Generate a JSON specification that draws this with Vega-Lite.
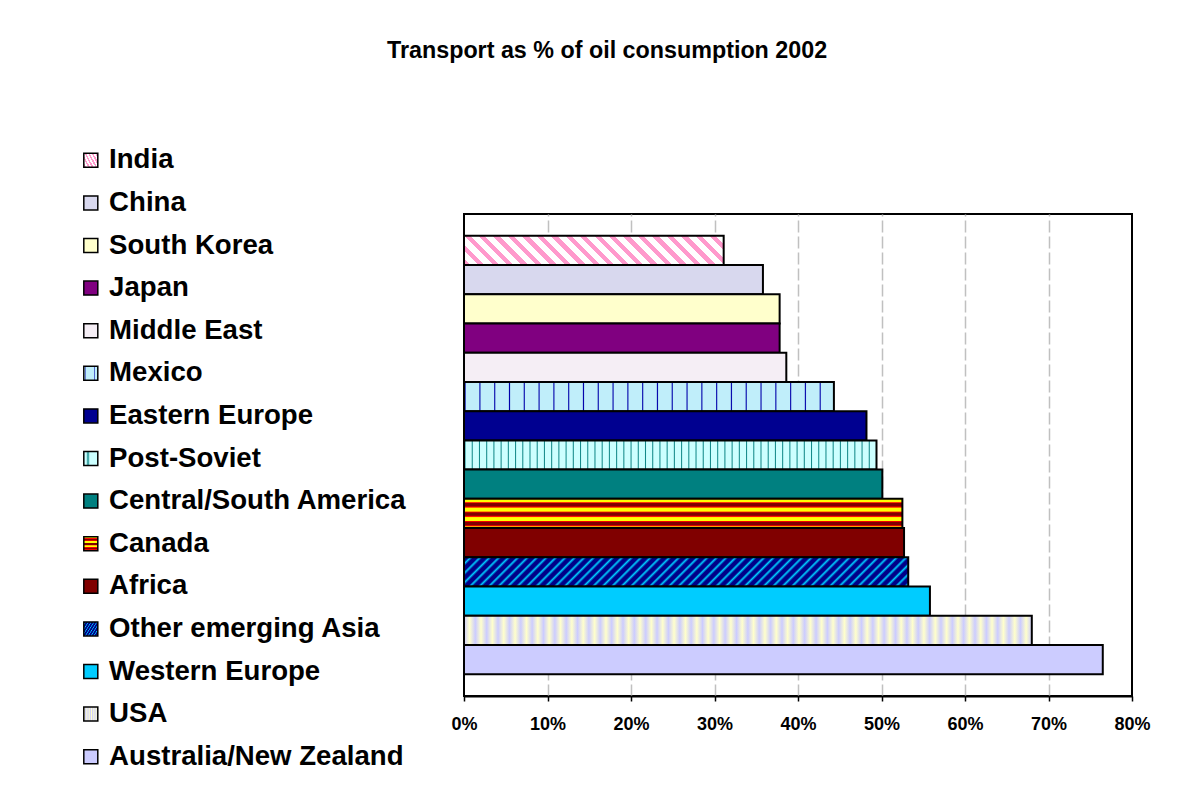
{
  "$schema": "https://vega.github.io/schema/vega-lite/v6.json",
  "autosize": "none",
  "width": 668,
  "height": 482,
  "padding": {"left": 464, "top": 214, "right": 55, "bottom": 106},
  "background": "white",
  "title": {
    "text": "Transport as % of oil consumption 2002",
    "anchor": "start",
    "frame": "group",
    "dx": -77,
    "offset": 65,
    "baseline": "alphabetic",
    "font": "Liberation Sans",
    "fontSize": 23.3,
    "fontWeight": "bold",
    "color": "black"
  },
  "data": {
    "values": [
      {"region": "India", "value": 31.1},
      {"region": "China", "value": 35.8},
      {"region": "South Korea", "value": 37.8},
      {"region": "Japan", "value": 37.8},
      {"region": "Middle East", "value": 38.6},
      {"region": "Mexico", "value": 44.3},
      {"region": "Eastern Europe", "value": 48.2},
      {"region": "Post-Soviet", "value": 49.4},
      {"region": "Central/South America", "value": 50.1},
      {"region": "Canada", "value": 52.5},
      {"region": "Africa", "value": 52.7},
      {"region": "Other emerging Asia", "value": 53.2},
      {"region": "Western Europe", "value": 55.8},
      {"region": "USA", "value": 68.0},
      {"region": "Australia/New Zealand", "value": 76.5}
    ]
  },
  "mark": {"type": "bar", "stroke": "black", "strokeWidth": 2, "opacity": 1, "fillOpacity": 1},
  "encoding": {
    "y": {
      "field": "region",
      "type": "nominal",
      "sort": null,
      "scale": {"paddingInner": 0, "paddingOuter": 0.74},
      "axis": null
    },
    "x": {
      "field": "value",
      "type": "quantitative",
      "scale": {"domain": [0, 80], "nice": false, "zero": true},
      "axis": {
        "values": [0, 10, 20, 30, 40, 50, 60, 70, 80],
        "labelExpr": "datum.value + '%'",
        "title": null,
        "domain": true,
        "domainColor": "black",
        "domainWidth": 2,
        "ticks": true,
        "tickColor": "black",
        "tickWidth": 1.5,
        "tickSize": 5,
        "labelFont": "Liberation Sans",
        "labelFontSize": 18,
        "labelFontWeight": "bold",
        "labelColor": "black",
        "labelPadding": 14.5,
        "labelFlush": false,
        "grid": true,
        "gridColor": {"condition": {"test": "datum.value === 0 || datum.value === 80", "value": "transparent"}, "value": "#c0c0c0"},
        "gridWidth": 1.5,
        "gridDash": [12, 4]
      }
    },
    "fill": {
      "field": "region",
      "type": "nominal",
      "scale": {
        "domain": ["India", "China", "South Korea", "Japan", "Middle East", "Mexico", "Eastern Europe", "Post-Soviet", "Central/South America", "Canada", "Africa", "Other emerging Asia", "Western Europe", "USA", "Australia/New Zealand"],
        "range": [
          {"expr": "{gradient:'linear',x1:0,y1:1,x2:1.0987,y2:0.8763,stops:[{offset:0,color:'#f9c'},{offset:0.022,color:'#f9c'},{offset:0.022,color:'#fff'},{offset:0.05,color:'#fff'},{offset:0.05,color:'#f9c'},{offset:0.072,color:'#f9c'},{offset:0.072,color:'#fff'},{offset:0.1,color:'#fff'},{offset:0.1,color:'#f9c'},{offset:0.122,color:'#f9c'},{offset:0.122,color:'#fff'},{offset:0.15,color:'#fff'},{offset:0.15,color:'#f9c'},{offset:0.172,color:'#f9c'},{offset:0.172,color:'#fff'},{offset:0.2,color:'#fff'},{offset:0.2,color:'#f9c'},{offset:0.222,color:'#f9c'},{offset:0.222,color:'#fff'},{offset:0.25,color:'#fff'},{offset:0.25,color:'#f9c'},{offset:0.272,color:'#f9c'},{offset:0.272,color:'#fff'},{offset:0.3,color:'#fff'},{offset:0.3,color:'#f9c'},{offset:0.322,color:'#f9c'},{offset:0.322,color:'#fff'},{offset:0.35,color:'#fff'},{offset:0.35,color:'#f9c'},{offset:0.372,color:'#f9c'},{offset:0.372,color:'#fff'},{offset:0.4,color:'#fff'},{offset:0.4,color:'#f9c'},{offset:0.422,color:'#f9c'},{offset:0.422,color:'#fff'},{offset:0.45,color:'#fff'},{offset:0.45,color:'#f9c'},{offset:0.472,color:'#f9c'},{offset:0.472,color:'#fff'},{offset:0.5,color:'#fff'},{offset:0.5,color:'#f9c'},{offset:0.522,color:'#f9c'},{offset:0.522,color:'#fff'},{offset:0.55,color:'#fff'},{offset:0.55,color:'#f9c'},{offset:0.572,color:'#f9c'},{offset:0.572,color:'#fff'},{offset:0.6,color:'#fff'},{offset:0.6,color:'#f9c'},{offset:0.622,color:'#f9c'},{offset:0.622,color:'#fff'},{offset:0.65,color:'#fff'},{offset:0.65,color:'#f9c'},{offset:0.672,color:'#f9c'},{offset:0.672,color:'#fff'},{offset:0.7,color:'#fff'},{offset:0.7,color:'#f9c'},{offset:0.722,color:'#f9c'},{offset:0.722,color:'#fff'},{offset:0.75,color:'#fff'},{offset:0.75,color:'#f9c'},{offset:0.772,color:'#f9c'},{offset:0.772,color:'#fff'},{offset:0.8,color:'#fff'},{offset:0.8,color:'#f9c'},{offset:0.822,color:'#f9c'},{offset:0.822,color:'#fff'},{offset:0.85,color:'#fff'},{offset:0.85,color:'#f9c'},{offset:0.872,color:'#f9c'},{offset:0.872,color:'#fff'},{offset:0.9,color:'#fff'},{offset:0.9,color:'#f9c'},{offset:0.922,color:'#f9c'},{offset:0.922,color:'#fff'},{offset:0.95,color:'#fff'},{offset:0.95,color:'#f9c'},{offset:0.972,color:'#f9c'},{offset:0.972,color:'#fff'},{offset:1,color:'#fff'}]}"},
          "#d8d8ee",
          "#ffffcc",
          "#800080",
          "#f5eef5",
          {"expr": "{gradient:'linear',x1:0,y1:0,x2:1,y2:0,stops:[{offset:0,color:'#c0eefa'},{offset:0.003,color:'#00a'},{offset:0.006,color:'#c0eefa'},{offset:0.04,color:'#c0eefa'},{offset:0.043,color:'#00a'},{offset:0.046,color:'#c0eefa'},{offset:0.08,color:'#c0eefa'},{offset:0.083,color:'#00a'},{offset:0.086,color:'#c0eefa'},{offset:0.12,color:'#c0eefa'},{offset:0.123,color:'#00a'},{offset:0.126,color:'#c0eefa'},{offset:0.16,color:'#c0eefa'},{offset:0.163,color:'#00a'},{offset:0.166,color:'#c0eefa'},{offset:0.2,color:'#c0eefa'},{offset:0.203,color:'#00a'},{offset:0.206,color:'#c0eefa'},{offset:0.24,color:'#c0eefa'},{offset:0.243,color:'#00a'},{offset:0.246,color:'#c0eefa'},{offset:0.28,color:'#c0eefa'},{offset:0.283,color:'#00a'},{offset:0.286,color:'#c0eefa'},{offset:0.32,color:'#c0eefa'},{offset:0.323,color:'#00a'},{offset:0.326,color:'#c0eefa'},{offset:0.36,color:'#c0eefa'},{offset:0.363,color:'#00a'},{offset:0.366,color:'#c0eefa'},{offset:0.4,color:'#c0eefa'},{offset:0.403,color:'#00a'},{offset:0.406,color:'#c0eefa'},{offset:0.44,color:'#c0eefa'},{offset:0.443,color:'#00a'},{offset:0.446,color:'#c0eefa'},{offset:0.48,color:'#c0eefa'},{offset:0.483,color:'#00a'},{offset:0.486,color:'#c0eefa'},{offset:0.52,color:'#c0eefa'},{offset:0.523,color:'#00a'},{offset:0.526,color:'#c0eefa'},{offset:0.56,color:'#c0eefa'},{offset:0.563,color:'#00a'},{offset:0.566,color:'#c0eefa'},{offset:0.6,color:'#c0eefa'},{offset:0.603,color:'#00a'},{offset:0.606,color:'#c0eefa'},{offset:0.64,color:'#c0eefa'},{offset:0.643,color:'#00a'},{offset:0.646,color:'#c0eefa'},{offset:0.68,color:'#c0eefa'},{offset:0.683,color:'#00a'},{offset:0.686,color:'#c0eefa'},{offset:0.72,color:'#c0eefa'},{offset:0.723,color:'#00a'},{offset:0.726,color:'#c0eefa'},{offset:0.76,color:'#c0eefa'},{offset:0.763,color:'#00a'},{offset:0.766,color:'#c0eefa'},{offset:0.8,color:'#c0eefa'},{offset:0.803,color:'#00a'},{offset:0.806,color:'#c0eefa'},{offset:0.84,color:'#c0eefa'},{offset:0.843,color:'#00a'},{offset:0.846,color:'#c0eefa'},{offset:0.88,color:'#c0eefa'},{offset:0.883,color:'#00a'},{offset:0.886,color:'#c0eefa'},{offset:0.92,color:'#c0eefa'},{offset:0.923,color:'#00a'},{offset:0.926,color:'#c0eefa'},{offset:0.96,color:'#c0eefa'},{offset:0.963,color:'#00a'},{offset:0.966,color:'#c0eefa'},{offset:1,color:'#c0eefa'}]}"},
          "#000090",
          {"expr": "{gradient:'linear',x1:0,y1:0,x2:1,y2:0,stops:[{offset:0,color:'#cff'},{offset:0.0025,color:'#188'},{offset:0.005,color:'#cff'},{offset:0.0175,color:'#cff'},{offset:0.02,color:'#188'},{offset:0.0225,color:'#cff'},{offset:0.035,color:'#cff'},{offset:0.0375,color:'#188'},{offset:0.04,color:'#cff'},{offset:0.0525,color:'#cff'},{offset:0.055,color:'#188'},{offset:0.0575,color:'#cff'},{offset:0.07,color:'#cff'},{offset:0.0725,color:'#188'},{offset:0.075,color:'#cff'},{offset:0.0875,color:'#cff'},{offset:0.09,color:'#188'},{offset:0.0925,color:'#cff'},{offset:0.105,color:'#cff'},{offset:0.1075,color:'#188'},{offset:0.11,color:'#cff'},{offset:0.1225,color:'#cff'},{offset:0.125,color:'#188'},{offset:0.1275,color:'#cff'},{offset:0.14,color:'#cff'},{offset:0.1425,color:'#188'},{offset:0.145,color:'#cff'},{offset:0.1575,color:'#cff'},{offset:0.16,color:'#188'},{offset:0.1625,color:'#cff'},{offset:0.175,color:'#cff'},{offset:0.1775,color:'#188'},{offset:0.18,color:'#cff'},{offset:0.1925,color:'#cff'},{offset:0.195,color:'#188'},{offset:0.1975,color:'#cff'},{offset:0.21,color:'#cff'},{offset:0.2125,color:'#188'},{offset:0.215,color:'#cff'},{offset:0.2275,color:'#cff'},{offset:0.23,color:'#188'},{offset:0.2325,color:'#cff'},{offset:0.245,color:'#cff'},{offset:0.2475,color:'#188'},{offset:0.25,color:'#cff'},{offset:0.2625,color:'#cff'},{offset:0.265,color:'#188'},{offset:0.2675,color:'#cff'},{offset:0.28,color:'#cff'},{offset:0.2825,color:'#188'},{offset:0.285,color:'#cff'},{offset:0.2975,color:'#cff'},{offset:0.3,color:'#188'},{offset:0.3025,color:'#cff'},{offset:0.315,color:'#cff'},{offset:0.3175,color:'#188'},{offset:0.32,color:'#cff'},{offset:0.3325,color:'#cff'},{offset:0.335,color:'#188'},{offset:0.3375,color:'#cff'},{offset:0.35,color:'#cff'},{offset:0.3525,color:'#188'},{offset:0.355,color:'#cff'},{offset:0.3675,color:'#cff'},{offset:0.37,color:'#188'},{offset:0.3725,color:'#cff'},{offset:0.385,color:'#cff'},{offset:0.3875,color:'#188'},{offset:0.39,color:'#cff'},{offset:0.4025,color:'#cff'},{offset:0.405,color:'#188'},{offset:0.4075,color:'#cff'},{offset:0.42,color:'#cff'},{offset:0.4225,color:'#188'},{offset:0.425,color:'#cff'},{offset:0.4375,color:'#cff'},{offset:0.44,color:'#188'},{offset:0.4425,color:'#cff'},{offset:0.455,color:'#cff'},{offset:0.4575,color:'#188'},{offset:0.46,color:'#cff'},{offset:0.4725,color:'#cff'},{offset:0.475,color:'#188'},{offset:0.4775,color:'#cff'},{offset:0.49,color:'#cff'},{offset:0.4925,color:'#188'},{offset:0.495,color:'#cff'},{offset:0.5075,color:'#cff'},{offset:0.51,color:'#188'},{offset:0.5125,color:'#cff'},{offset:0.525,color:'#cff'},{offset:0.5275,color:'#188'},{offset:0.53,color:'#cff'},{offset:0.5425,color:'#cff'},{offset:0.545,color:'#188'},{offset:0.5475,color:'#cff'},{offset:0.56,color:'#cff'},{offset:0.5625,color:'#188'},{offset:0.565,color:'#cff'},{offset:0.5775,color:'#cff'},{offset:0.58,color:'#188'},{offset:0.5825,color:'#cff'},{offset:0.595,color:'#cff'},{offset:0.5975,color:'#188'},{offset:0.6,color:'#cff'},{offset:0.6125,color:'#cff'},{offset:0.615,color:'#188'},{offset:0.6175,color:'#cff'},{offset:0.63,color:'#cff'},{offset:0.6325,color:'#188'},{offset:0.635,color:'#cff'},{offset:0.6475,color:'#cff'},{offset:0.65,color:'#188'},{offset:0.6525,color:'#cff'},{offset:0.665,color:'#cff'},{offset:0.6675,color:'#188'},{offset:0.67,color:'#cff'},{offset:0.6825,color:'#cff'},{offset:0.685,color:'#188'},{offset:0.6875,color:'#cff'},{offset:0.7,color:'#cff'},{offset:0.7025,color:'#188'},{offset:0.705,color:'#cff'},{offset:0.7175,color:'#cff'},{offset:0.72,color:'#188'},{offset:0.7225,color:'#cff'},{offset:0.735,color:'#cff'},{offset:0.7375,color:'#188'},{offset:0.74,color:'#cff'},{offset:0.7525,color:'#cff'},{offset:0.755,color:'#188'},{offset:0.7575,color:'#cff'},{offset:0.77,color:'#cff'},{offset:0.7725,color:'#188'},{offset:0.775,color:'#cff'},{offset:0.7875,color:'#cff'},{offset:0.79,color:'#188'},{offset:0.7925,color:'#cff'},{offset:0.805,color:'#cff'},{offset:0.8075,color:'#188'},{offset:0.81,color:'#cff'},{offset:0.8225,color:'#cff'},{offset:0.825,color:'#188'},{offset:0.8275,color:'#cff'},{offset:0.84,color:'#cff'},{offset:0.8425,color:'#188'},{offset:0.845,color:'#cff'},{offset:0.8575,color:'#cff'},{offset:0.86,color:'#188'},{offset:0.8625,color:'#cff'},{offset:0.875,color:'#cff'},{offset:0.8775,color:'#188'},{offset:0.88,color:'#cff'},{offset:0.8925,color:'#cff'},{offset:0.895,color:'#188'},{offset:0.8975,color:'#cff'},{offset:0.91,color:'#cff'},{offset:0.9125,color:'#188'},{offset:0.915,color:'#cff'},{offset:0.9275,color:'#cff'},{offset:0.93,color:'#188'},{offset:0.9325,color:'#cff'},{offset:0.945,color:'#cff'},{offset:0.9475,color:'#188'},{offset:0.95,color:'#cff'},{offset:0.9625,color:'#cff'},{offset:0.965,color:'#188'},{offset:0.9675,color:'#cff'},{offset:0.98,color:'#cff'},{offset:0.9825,color:'#188'},{offset:0.985,color:'#cff'},{offset:1,color:'#cff'}]}"},
          "#008080",
          {"expr": "{gradient:'linear',x1:0,y1:0,x2:0.00001,y2:1,stops:[{offset:0,color:'#ff0'},{offset:0.1,color:'#ff0'},{offset:0.13,color:'#f00'},{offset:0.16,color:'#800000'},{offset:0.24,color:'#800000'},{offset:0.28,color:'#f00'},{offset:0.32,color:'#ff0'},{offset:0.42,color:'#ff0'},{offset:0.45,color:'#f00'},{offset:0.48,color:'#800000'},{offset:0.56,color:'#800000'},{offset:0.6,color:'#f00'},{offset:0.64,color:'#ff0'},{offset:0.74,color:'#ff0'},{offset:0.77,color:'#f00'},{offset:0.8,color:'#800000'},{offset:0.88,color:'#800000'},{offset:0.92,color:'#f00'},{offset:0.96,color:'#ff0'},{offset:1,color:'#ff0'}]}"},
          "#800000",
          {"expr": "{gradient:'linear',x1:0,y1:0,x2:1.0612,y2:0.0699,stops:[{offset:0,color:'#008'},{offset:0.009,color:'#008'},{offset:0.014,color:'#0cf'},{offset:0.02,color:'#008'},{offset:0.029,color:'#008'},{offset:0.034,color:'#0cf'},{offset:0.04,color:'#008'},{offset:0.049,color:'#008'},{offset:0.054,color:'#0cf'},{offset:0.06,color:'#008'},{offset:0.069,color:'#008'},{offset:0.074,color:'#0cf'},{offset:0.08,color:'#008'},{offset:0.089,color:'#008'},{offset:0.094,color:'#0cf'},{offset:0.1,color:'#008'},{offset:0.109,color:'#008'},{offset:0.114,color:'#0cf'},{offset:0.12,color:'#008'},{offset:0.129,color:'#008'},{offset:0.134,color:'#0cf'},{offset:0.14,color:'#008'},{offset:0.149,color:'#008'},{offset:0.154,color:'#0cf'},{offset:0.16,color:'#008'},{offset:0.169,color:'#008'},{offset:0.174,color:'#0cf'},{offset:0.18,color:'#008'},{offset:0.189,color:'#008'},{offset:0.194,color:'#0cf'},{offset:0.2,color:'#008'},{offset:0.209,color:'#008'},{offset:0.214,color:'#0cf'},{offset:0.22,color:'#008'},{offset:0.229,color:'#008'},{offset:0.234,color:'#0cf'},{offset:0.24,color:'#008'},{offset:0.249,color:'#008'},{offset:0.254,color:'#0cf'},{offset:0.26,color:'#008'},{offset:0.269,color:'#008'},{offset:0.274,color:'#0cf'},{offset:0.28,color:'#008'},{offset:0.289,color:'#008'},{offset:0.294,color:'#0cf'},{offset:0.3,color:'#008'},{offset:0.309,color:'#008'},{offset:0.314,color:'#0cf'},{offset:0.32,color:'#008'},{offset:0.329,color:'#008'},{offset:0.334,color:'#0cf'},{offset:0.34,color:'#008'},{offset:0.349,color:'#008'},{offset:0.354,color:'#0cf'},{offset:0.36,color:'#008'},{offset:0.369,color:'#008'},{offset:0.374,color:'#0cf'},{offset:0.38,color:'#008'},{offset:0.389,color:'#008'},{offset:0.394,color:'#0cf'},{offset:0.4,color:'#008'},{offset:0.409,color:'#008'},{offset:0.414,color:'#0cf'},{offset:0.42,color:'#008'},{offset:0.429,color:'#008'},{offset:0.434,color:'#0cf'},{offset:0.44,color:'#008'},{offset:0.449,color:'#008'},{offset:0.454,color:'#0cf'},{offset:0.46,color:'#008'},{offset:0.469,color:'#008'},{offset:0.474,color:'#0cf'},{offset:0.48,color:'#008'},{offset:0.489,color:'#008'},{offset:0.494,color:'#0cf'},{offset:0.5,color:'#008'},{offset:0.509,color:'#008'},{offset:0.514,color:'#0cf'},{offset:0.52,color:'#008'},{offset:0.529,color:'#008'},{offset:0.534,color:'#0cf'},{offset:0.54,color:'#008'},{offset:0.549,color:'#008'},{offset:0.554,color:'#0cf'},{offset:0.56,color:'#008'},{offset:0.569,color:'#008'},{offset:0.574,color:'#0cf'},{offset:0.58,color:'#008'},{offset:0.589,color:'#008'},{offset:0.594,color:'#0cf'},{offset:0.6,color:'#008'},{offset:0.609,color:'#008'},{offset:0.614,color:'#0cf'},{offset:0.62,color:'#008'},{offset:0.629,color:'#008'},{offset:0.634,color:'#0cf'},{offset:0.64,color:'#008'},{offset:0.649,color:'#008'},{offset:0.654,color:'#0cf'},{offset:0.66,color:'#008'},{offset:0.669,color:'#008'},{offset:0.674,color:'#0cf'},{offset:0.68,color:'#008'},{offset:0.689,color:'#008'},{offset:0.694,color:'#0cf'},{offset:0.7,color:'#008'},{offset:0.709,color:'#008'},{offset:0.714,color:'#0cf'},{offset:0.72,color:'#008'},{offset:0.729,color:'#008'},{offset:0.734,color:'#0cf'},{offset:0.74,color:'#008'},{offset:0.749,color:'#008'},{offset:0.754,color:'#0cf'},{offset:0.76,color:'#008'},{offset:0.769,color:'#008'},{offset:0.774,color:'#0cf'},{offset:0.78,color:'#008'},{offset:0.789,color:'#008'},{offset:0.794,color:'#0cf'},{offset:0.8,color:'#008'},{offset:0.809,color:'#008'},{offset:0.814,color:'#0cf'},{offset:0.82,color:'#008'},{offset:0.829,color:'#008'},{offset:0.834,color:'#0cf'},{offset:0.84,color:'#008'},{offset:0.849,color:'#008'},{offset:0.854,color:'#0cf'},{offset:0.86,color:'#008'},{offset:0.869,color:'#008'},{offset:0.874,color:'#0cf'},{offset:0.88,color:'#008'},{offset:0.889,color:'#008'},{offset:0.894,color:'#0cf'},{offset:0.9,color:'#008'},{offset:0.909,color:'#008'},{offset:0.914,color:'#0cf'},{offset:0.92,color:'#008'},{offset:0.929,color:'#008'},{offset:0.934,color:'#0cf'},{offset:0.94,color:'#008'},{offset:0.949,color:'#008'},{offset:0.954,color:'#0cf'},{offset:0.96,color:'#008'},{offset:0.969,color:'#008'},{offset:0.974,color:'#0cf'},{offset:0.98,color:'#008'},{offset:0.989,color:'#008'},{offset:0.994,color:'#0cf'},{offset:1,color:'#008'}]}"},
          "#00ccff",
          {"expr": "{gradient:'linear',x1:0,y1:0,x2:1,y2:0,stops:[{offset:0,color:'#ccf'},{offset:0.01,color:'#ffc'},{offset:0.02,color:'#ccf'},{offset:0.03,color:'#ffc'},{offset:0.04,color:'#ccf'},{offset:0.05,color:'#ffc'},{offset:0.06,color:'#ccf'},{offset:0.07,color:'#ffc'},{offset:0.08,color:'#ccf'},{offset:0.09,color:'#ffc'},{offset:0.1,color:'#ccf'},{offset:0.11,color:'#ffc'},{offset:0.12,color:'#ccf'},{offset:0.13,color:'#ffc'},{offset:0.14,color:'#ccf'},{offset:0.15,color:'#ffc'},{offset:0.16,color:'#ccf'},{offset:0.17,color:'#ffc'},{offset:0.18,color:'#ccf'},{offset:0.19,color:'#ffc'},{offset:0.2,color:'#ccf'},{offset:0.21,color:'#ffc'},{offset:0.22,color:'#ccf'},{offset:0.23,color:'#ffc'},{offset:0.24,color:'#ccf'},{offset:0.25,color:'#ffc'},{offset:0.26,color:'#ccf'},{offset:0.27,color:'#ffc'},{offset:0.28,color:'#ccf'},{offset:0.29,color:'#ffc'},{offset:0.3,color:'#ccf'},{offset:0.31,color:'#ffc'},{offset:0.32,color:'#ccf'},{offset:0.33,color:'#ffc'},{offset:0.34,color:'#ccf'},{offset:0.35,color:'#ffc'},{offset:0.36,color:'#ccf'},{offset:0.37,color:'#ffc'},{offset:0.38,color:'#ccf'},{offset:0.39,color:'#ffc'},{offset:0.4,color:'#ccf'},{offset:0.41,color:'#ffc'},{offset:0.42,color:'#ccf'},{offset:0.43,color:'#ffc'},{offset:0.44,color:'#ccf'},{offset:0.45,color:'#ffc'},{offset:0.46,color:'#ccf'},{offset:0.47,color:'#ffc'},{offset:0.48,color:'#ccf'},{offset:0.49,color:'#ffc'},{offset:0.5,color:'#ccf'},{offset:0.51,color:'#ffc'},{offset:0.52,color:'#ccf'},{offset:0.53,color:'#ffc'},{offset:0.54,color:'#ccf'},{offset:0.55,color:'#ffc'},{offset:0.56,color:'#ccf'},{offset:0.57,color:'#ffc'},{offset:0.58,color:'#ccf'},{offset:0.59,color:'#ffc'},{offset:0.6,color:'#ccf'},{offset:0.61,color:'#ffc'},{offset:0.62,color:'#ccf'},{offset:0.63,color:'#ffc'},{offset:0.64,color:'#ccf'},{offset:0.65,color:'#ffc'},{offset:0.66,color:'#ccf'},{offset:0.67,color:'#ffc'},{offset:0.68,color:'#ccf'},{offset:0.69,color:'#ffc'},{offset:0.7,color:'#ccf'},{offset:0.71,color:'#ffc'},{offset:0.72,color:'#ccf'},{offset:0.73,color:'#ffc'},{offset:0.74,color:'#ccf'},{offset:0.75,color:'#ffc'},{offset:0.76,color:'#ccf'},{offset:0.77,color:'#ffc'},{offset:0.78,color:'#ccf'},{offset:0.79,color:'#ffc'},{offset:0.8,color:'#ccf'},{offset:0.81,color:'#ffc'},{offset:0.82,color:'#ccf'},{offset:0.83,color:'#ffc'},{offset:0.84,color:'#ccf'},{offset:0.85,color:'#ffc'},{offset:0.86,color:'#ccf'},{offset:0.87,color:'#ffc'},{offset:0.88,color:'#ccf'},{offset:0.89,color:'#ffc'},{offset:0.9,color:'#ccf'},{offset:0.91,color:'#ffc'},{offset:0.92,color:'#ccf'},{offset:0.93,color:'#ffc'},{offset:0.94,color:'#ccf'},{offset:0.95,color:'#ffc'},{offset:0.96,color:'#ccf'},{offset:0.97,color:'#ffc'},{offset:0.98,color:'#ccf'},{offset:0.99,color:'#ffc'},{offset:1,color:'#ccf'}]}"},
          "#ccccff"
        ]
      },
      "legend": {
        "orient": "none",
        "legendX": -387,
        "legendY": -67.5,
        "title": null,
        "padding": 0,
        "offset": 0,
        "symbolType": "square",
        "symbolSize": 196,
        "symbolStrokeColor": "black",
        "symbolStrokeWidth": 1.5,
        "symbolOpacity": 1,
        "labelFont": "Liberation Sans",
        "labelFontSize": 27.6,
        "labelFontWeight": "bold",
        "labelColor": "black",
        "labelOffset": 4.5,
        "labelLimit": 0,
        "rowPadding": 13.6
      }
    }
  },
  "config": {
    "font": "Liberation Sans",
    "view": {"stroke": "black", "strokeWidth": 2}
  }
}
